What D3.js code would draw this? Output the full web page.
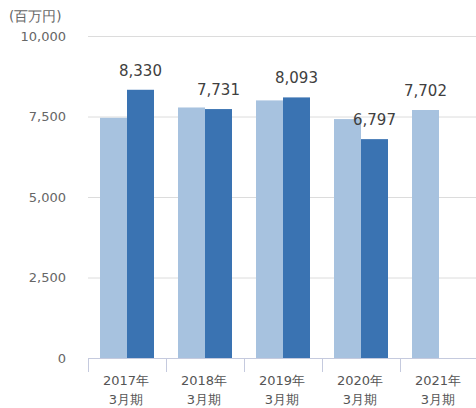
<!DOCTYPE html>
<html>
<head>
<meta charset="utf-8">
<script src="https://cdn.jsdelivr.net/npm/d3@7"></script>
<style>
  html, body { margin: 0; padding: 0; background: #fff; }
  svg { display: block; }
</style>
</head>
<body>
<svg id="chart" width="476" height="408"></svg>
<script>
// Fiscal periods (year ending March)
const categories = ["2017年|3月期", "2018年|3月期", "2019年|3月期", "2020年|3月期", "2021年|3月期"];
// Light series (plan) and dark series (actual), in million yen
const planValues = [7460, 7780, 8000, 7420, 7702];
const actualValues = [8330, 7731, 8093, 6797, null];
// Which value in each period carries a label
const labelSeries = ["actual", "actual", "actual", "actual", "plan"];
const yTicks = [0, 2500, 5000, 7500, 10000];
const unitLabel = "(百万円)";

const svg = d3.select("#chart");
const font = "'DejaVu Sans', Verdana, sans-serif";

const x0 = d3.scaleBand().domain(categories).range([88, 478]).padding(0);
const x1 = d3.scaleBand().domain(["plan", "actual"]).range([12, 66]).padding(0);
const y = d3.scaleLinear().domain([0, 10000]).range([358, 36]);
const color = { plan: "#a7c2df", actual: "#3a73b2" };

// Gridlines
svg.append("g").selectAll("line").data(yTicks.filter(d => d > 0)).join("line")
  .attr("x1", 88).attr("x2", 476)
  .attr("y1", d => y(d) + 0.5).attr("y2", d => y(d) + 0.5)
  .attr("stroke", "#dcdcdc").attr("stroke-width", 1);

// Y tick labels
svg.append("g").selectAll("text").data(yTicks).join("text")
  .attr("x", 66).attr("y", d => y(d) + 4.5)
  .attr("text-anchor", "end")
  .attr("font-family", font).attr("font-size", 13)
  .attr("fill", "#666")
  .text(d => d3.format(",")(d));

svg.append("text")
  .attr("x", 9).attr("y", 21)
  .attr("font-family", font).attr("font-size", 13.5)
  .attr("fill", "#666")
  .text(unitLabel);

// Bars
const rows = categories.map((c, i) => ({ c, i, plan: planValues[i], actual: actualValues[i] }));
const groups = svg.append("g").selectAll("g").data(rows).join("g")
  .attr("transform", d => `translate(${x0(d.c)},0)`);

groups.selectAll("rect")
  .data(d => ["plan", "actual"].filter(k => d[k] != null).map(k => ({ k, v: d[k] })))
  .join("rect")
  .attr("x", d => x1(d.k))
  .attr("width", x1.bandwidth())
  .attr("y", d => y(d.v))
  .attr("height", d => y(0) - y(d.v))
  .attr("fill", d => color[d.k]);

// Value labels
groups.append("text")
  .attr("x", d => x1(labelSeries[d.i]) + x1.bandwidth() / 2)
  .attr("y", d => y(d[labelSeries[d.i]]) - 14)
  .attr("text-anchor", "middle")
  .attr("font-family", font).attr("font-size", 15)
  .attr("fill", "#404040")
  .text(d => d3.format(",")(d[labelSeries[d.i]]));

// X axis baseline and category dividers
const axisColor = "#c5cade";
svg.append("line")
  .attr("x1", 88).attr("x2", 476)
  .attr("y1", 358.5).attr("y2", 358.5)
  .attr("stroke", axisColor);
svg.append("g").selectAll("line").data(categories).join("line")
  .attr("x1", d => x0(d) + 0.5).attr("x2", d => x0(d) + 0.5)
  .attr("y1", 358).attr("y2", 372)
  .attr("stroke", axisColor);

// Category labels (two lines)
const xl = svg.append("g").selectAll("text").data(categories).join("text")
  .attr("text-anchor", "middle")
  .attr("font-family", font).attr("font-size", 13)
  .attr("fill", "#555");
xl.selectAll("tspan").data(d => d.split("|").map((t, j) => ({ t, j, c: d }))).join("tspan")
  .attr("x", d => x0(d.c) + x0.bandwidth() / 2 - 1)
  .attr("y", d => 385 + d.j * 19)
  .text(d => d.t);
</script>
</body>
</html>
